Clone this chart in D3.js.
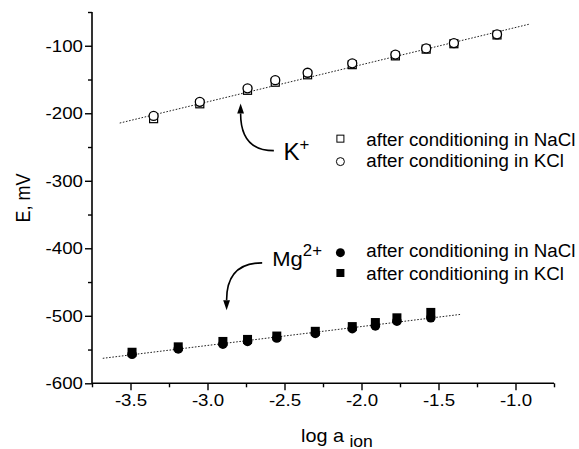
<!DOCTYPE html>
<html><head><meta charset="utf-8">
<script src="https://cdn.jsdelivr.net/npm/d3@7/dist/d3.min.js"></script>
<style>body{margin:0;background:#fff}svg{display:block}text{font-family:"Liberation Sans",Arial,sans-serif;fill:#000}</style>
</head><body>
<svg id="c" width="579" height="449"></svg>
<script>
// ---- data ----
const kX        = [-3.35, -3.05, -2.74, -2.56, -2.35, -2.06, -1.78, -1.58, -1.40, -1.12];
const kNaCl     = [-208, -186, -166, -154, -143, -128, -115, -105, -97, -84];
const kKCl      = [-204, -183, -163, -151, -140, -126, -113, -104, -96, -83];
const mgX       = [-3.49, -3.19, -2.90, -2.74, -2.55, -2.30, -2.06, -1.91, -1.77, -1.55];
const mgNaCl    = [-557, -549, -542, -538, -533, -526, -519, -515, -508, -503];
const mgKCl     = [-554, -546, -538, -535, -530, -523, -516, -510, -503, -495];
const kFitX     = [-3.57, -0.91];
const kFitY     = [-214.5, -68];
const mgFitX    = [-3.68, -1.36];
const mgFitY    = [-563, -498];
const xMajor    = [-3.5, -3.0, -2.5, -2.0, -1.5, -1.0];
const xMinor    = [-3.75, -3.25, -2.75, -2.25, -1.75, -1.25, -0.75];
const yMajor    = [-600, -500, -400, -300, -200, -100];
const yMinor    = [-550, -450, -350, -250, -150, -50];
const legendLabels = ["after conditioning in NaCl", "after conditioning in KCl"];

const S = 1.1; // horizontal stretch of the original picture's text
const svg = d3.select("#c");
const x = d3.scaleLinear().domain([-3.75, -0.75]).range([92, 554]);
const y = d3.scaleLinear().domain([-600, -50]).range([383.3, 12]);

function stretchText(sel, s){
  sel.each(function(){
    const t = d3.select(this);
    const tx = +t.attr("x") || 0;
    t.attr("x", 0).attr("transform", `translate(${tx},0) scale(${s},1)`);
  });
}

// axes
const fmt = d3.format(".1f");
const gx = svg.append("g").attr("transform", `translate(0,${y(-600)})`)
  .call(d3.axisBottom(x).tickValues(xMajor).tickSize(7).tickPadding(4).tickFormat(d => fmt(d).replace("−","-")));
const gx2 = svg.append("g").attr("transform", `translate(0,${y(-600)})`)
  .call(d3.axisBottom(x).tickValues(xMinor).tickSize(4).tickFormat(""));
const gy = svg.append("g").attr("transform", `translate(${x(-3.75)},0)`)
  .call(d3.axisLeft(y).tickValues(yMajor).tickSize(7).tickPadding(2).tickFormat(d => String(d)));
const gy2 = svg.append("g").attr("transform", `translate(${x(-3.75)},0)`)
  .call(d3.axisLeft(y).tickValues(yMinor).tickSize(4).tickFormat(""));
gx2.select(".domain").remove();
gy2.select(".domain").remove();
gx.select(".domain").attr("d", `M${x(-3.75)},0H${x(-0.75)}`).attr("stroke", "#000").attr("stroke-width", 1.6);
gy.select(".domain").attr("d", `M0,${y(-600)}V${y(-50)}`).attr("stroke", "#000").attr("stroke-width", 1.6);
svg.selectAll(".tick line").attr("stroke", "#000").attr("stroke-width", 1.4);

gx.selectAll(".tick text").style("font-size", "17px").attr("fill", "#000").attr("font-family", null);
gy.selectAll(".tick text").style("font-size", "17px").attr("fill", "#000").attr("font-family", null);
stretchText(gx.selectAll(".tick text"), S);
stretchText(gy.selectAll(".tick text"), S);

// axis titles
svg.append("text").attr("transform", `translate(30,198) scale(${S},1) rotate(-90)`)
  .attr("text-anchor", "middle").style("font-size", "18px").text("E, mV");
const xt = svg.append("text").attr("transform", `translate(301,441.5) scale(${S},1)`).style("font-size", "18px");
xt.append("tspan").text("log a ");
xt.append("tspan").attr("dy", 5).style("font-size", "16px").text("ion");

// fit lines
const line = d3.line().x(d => x(d[0])).y(d => y(d[1]));
[[kFitX, kFitY], [mgFitX, mgFitY]].forEach(([fx, fy]) => {
  svg.append("path").attr("d", line(d3.zip(fx, fy))).attr("fill", "none")
    .attr("stroke", "#222").attr("stroke-width", 1).attr("stroke-dasharray", "1.6,1.6");
});

// K+ : squares (NaCl) under circles (KCl)
svg.append("g").selectAll("rect").data(d3.zip(kX, kNaCl)).join("rect")
  .attr("x", d => x(d[0]) - 4).attr("y", d => y(d[1]) - 4).attr("width", 8).attr("height", 8)
  .attr("fill", "#fff").attr("stroke", "#000").attr("stroke-width", 1.2);
svg.append("g").selectAll("circle").data(d3.zip(kX, kKCl)).join("circle")
  .attr("cx", d => x(d[0])).attr("cy", d => y(d[1])).attr("r", 4.5)
  .attr("fill", "#fff").attr("stroke", "#000").attr("stroke-width", 1.3);

// Mg2+ : squares (KCl), circles (NaCl)
svg.append("g").selectAll("rect").data(d3.zip(mgX, mgKCl)).join("rect")
  .attr("x", d => x(d[0]) - 4.5).attr("y", d => y(d[1]) - 4.5).attr("width", 9).attr("height", 9)
  .attr("fill", "#000");
svg.append("g").selectAll("circle").data(d3.zip(mgX, mgNaCl)).join("circle")
  .attr("cx", d => x(d[0])).attr("cy", d => y(d[1])).attr("r", 4.8).attr("fill", "#000");

// curved arrows (data coordinates)
function arrow(sx, sy, tx, ty, down){
  const X0 = x(sx), Y0 = y(sy), X1 = x(tx), Y1 = y(ty);
  const L = 10, W = 3.4;
  const baseY = down ? Y1 - L : Y1 + L;
  svg.append("path").attr("d", `M${X0},${Y0}Q${X1},${Y0} ${X1},${baseY}`)
    .attr("fill", "none").attr("stroke", "#000").attr("stroke-width", 1.6);
  svg.append("path").attr("d", `M${X1},${Y1}L${X1 - W},${baseY}L${X1 + W},${baseY}Z`).attr("fill", "#000");
}
arrow(-2.569, -255.4, -2.785, -185.5, false);
arrow(-2.645, -421.6, -2.876, -491.7, true);

// ion labels
const kl = svg.append("text").attr("transform", `translate(${x(-2.507)},${y(-268.7)}) scale(1.05,1)`).style("font-size", "23px");
kl.append("tspan").text("K");
kl.append("tspan").attr("dy", -10).style("font-size", "16px").text("+");
const ml = svg.append("text").attr("transform", `translate(${x(-2.580)},${y(-426.7)}) scale(1.05,1)`).style("font-size", "21px");
ml.append("tspan").text("Mg");
ml.append("tspan").attr("dy", -10).style("font-size", "16px").text("2+");

// legends
const lx = x(-2.137), ltx = x(-1.969);
// K legend
svg.append("rect").attr("x", lx - 3.5).attr("y", y(-237.6) - 3.5).attr("width", 7).attr("height", 7)
  .attr("fill", "#fff").attr("stroke", "#000").attr("stroke-width", 1);
svg.append("circle").attr("cx", lx).attr("cy", y(-271.6)).attr("r", 4)
  .attr("fill", "#fff").attr("stroke", "#000").attr("stroke-width", 1);
// Mg legend
svg.append("circle").attr("cx", lx).attr("cy", y(-406.5)).attr("r", 4.5).attr("fill", "#000");
svg.append("rect").attr("x", lx - 4).attr("y", y(-436.6) - 4).attr("width", 8).attr("height", 8).attr("fill", "#000");
[[-247.9, -278.9], [-413, -446.4]].forEach(pair => {
  pair.forEach((v, i) => {
    svg.append("text").attr("transform", `translate(${ltx},${y(v)}) scale(1.04,1)`)
      .style("font-size", "18px").text(legendLabels[i]);
  });
});
</script>
</body></html>
